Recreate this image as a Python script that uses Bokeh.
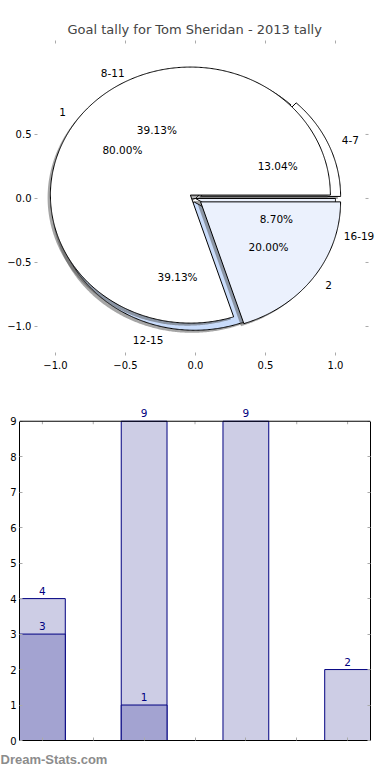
import numpy as np
from bokeh.plotting import figure
from bokeh.models import ColumnDataSource, Label, LinearAxis, FixedTicker, Title, Range1d, Span
from bokeh.layouts import column, row
from bokeh.embed import file_html
from bokeh.resources import INLINE

# ---------------- data ----------------
title_text = "Goal tally for Tom Sheridan - 2013 tally"
outer_labels = ["4-7", "8-11", "12-15", "16-19"]
outer_values = [3, 9, 9, 2]
inner_labels = ["1", "2"]
inner_values = [4, 1]

pie_xticks = [-1.0, -0.5, 0.0, 0.5, 1.0]
pie_yticks = [-1.0, -0.5, 0.0, 0.5]

bar_x = [0, 2, 4, 6]
bar_light = [4, 9, 9, 2]
bar_dark = [3, 1, 0, 0]
bar_yticks = list(range(10))
bar_xticks = list(range(7))
footer_text = "Dream-Stats.com"

# ---------------- style ----------------
FONT = "DejaVu Sans"
outer_explode = [0.04, 0.0, 0.03, 0.0]
outer_colors = ["#ffffff", "#ffffff", "#c9dcfb", "#ebf1fd"]
inner_explode = [0.045, 0.045]
inner_colors = ["#ffffff", "#ebf1fd"]
shadow_dx, shadow_dy = -0.02, -0.02
TICK_COLOR = "#aaaaaa"
NAVY = "#000080"
PIE_RIGHT_LIMIT = 1.236      # matplotlib axes limit (where the right ticks sit)
PIE_PX_X = 140.0             # px per data unit in x
BAR_YMAX = 9                 # top of the bar axes box
BAR_PX_Y = 35.44             # px per unit in y


def pie_geometry(values, labels, explode, radius=1.0):
    vals = np.asarray(values, dtype=float)
    frac = vals / vals.sum()
    edges = np.concatenate([[0.0], np.cumsum(frac)]) * 2 * np.pi
    out = dict(xs=[], ys=[], sx=[], sy=[], lx=[], ly=[], lal=[], px=[], py=[], pct=[], lab=[])
    for i in range(len(vals)):
        a0, a1 = edges[i], edges[i + 1]
        am = 0.5 * (a0 + a1)
        cx = explode[i] * np.cos(am)
        cy = explode[i] * np.sin(am)
        n = max(int((a1 - a0) / (2 * np.pi) * 720), 6)
        t = np.linspace(a0, a1, n)
        xs = np.concatenate([[cx], cx + radius * np.cos(t), [cx]])
        ys = np.concatenate([[cy], cy + radius * np.sin(t), [cy]])
        out["xs"].append(list(xs))
        out["ys"].append(list(ys))
        out["sx"].append(list(xs + shadow_dx))
        out["sy"].append(list(ys + shadow_dy))
        lx = cx + 1.1 * radius * np.cos(am)
        ly = cy + 1.1 * radius * np.sin(am)
        out["lx"].append(float(lx))
        out["ly"].append(float(ly))
        out["lal"].append("left" if lx > 0 else "right")
        out["px"].append(float(cx + 0.6 * radius * np.cos(am)))
        out["py"].append(float(cy + 0.6 * radius * np.sin(am)))
        out["pct"].append("%.2f%%" % (100 * frac[i]))
        out["lab"].append(labels[i])
    return out


def style_axis(ax, labels=True, size="10px", standoff=3):
    ax.axis_line_color = None
    ax.major_tick_in = 3
    ax.major_tick_out = 0
    ax.minor_tick_line_color = None
    ax.major_tick_line_color = TICK_COLOR
    ax.major_label_text_font = FONT
    if labels:
        ax.major_label_text_color = "black"
        ax.major_label_text_font_size = size
        ax.major_label_standoff = standoff
    else:
        ax.major_label_text_color = None
        ax.major_label_text_font_size = "1px"
        ax.major_label_standoff = 0


def fmt(v):
    return ("%.1f" % v).replace("-", "\u2212")


# ---------------- pie figure ----------------
p1 = figure(width=390, height=390, output_backend="svg", toolbar_location=None,
            x_range=Range1d(-1.15, 1.393), y_range=Range1d(-1.2266, 1.234),
            min_border_left=34, min_border_right=0, min_border_top=40, min_border_bottom=35,
            title=title_text)
p1.title.text_font = FONT
p1.title.text_font_size = "13px"
p1.title.text_font_style = "normal"
p1.title.align = "left"
p1.title.offset = 33
p1.title.standoff = 8
p1.xgrid.visible = False
p1.ygrid.visible = False
p1.outline_line_color = None

p1.xaxis.ticker = FixedTicker(ticks=pie_xticks)
p1.yaxis.ticker = FixedTicker(ticks=pie_yticks)
p1.xaxis.major_label_overrides = {v: fmt(v) for v in pie_xticks}
p1.yaxis.major_label_overrides = {v: fmt(v) for v in pie_yticks}
style_axis(p1.xaxis[0], standoff=5)
style_axis(p1.yaxis[0])
top1 = LinearAxis(ticker=FixedTicker(ticks=pie_xticks))
style_axis(top1, labels=False)
p1.add_layout(top1, "above")
# right-hand tick marks of the (frameless) matplotlib axes
p1.segment(x0=[PIE_RIGHT_LIMIT] * len(pie_yticks), y0=pie_yticks,
           x1=[PIE_RIGHT_LIMIT - 3 / PIE_PX_X] * len(pie_yticks), y1=pie_yticks,
           line_color=TICK_COLOR, line_width=1)

layers = [
    (pie_geometry(outer_values, outer_labels, outer_explode), outer_colors),
    (pie_geometry(inner_values, inner_labels, inner_explode), inner_colors),
]
for geo, colors in layers:
    p1.patches(xs=geo["sx"], ys=geo["sy"], fill_color="#4d4d4d", fill_alpha=0.5, line_color=None)
    p1.patches(xs=geo["xs"], ys=geo["ys"], fill_color=colors, line_color="black", line_width=1)

for geo, colors in layers:
    for x, y, t, a in zip(geo["lx"], geo["ly"], geo["lab"], geo["lal"]):
        p1.add_layout(Label(x=x, y=y, text=t, text_align=a, text_baseline="middle",
                            text_font=FONT, text_font_size="10.5px", text_color="black"))
    for x, y, t in zip(geo["px"], geo["py"], geo["pct"]):
        p1.add_layout(Label(x=x, y=y, text=t, text_align="center", text_baseline="middle",
                            text_font=FONT, text_font_size="10.5px", text_color="black"))

# ---------------- bar figure ----------------
p2 = figure(width=390, height=390, output_backend="svg", toolbar_location=None,
            x_range=Range1d(-0.45, 6.45), y_range=Range1d(0, 9.5),
            min_border_left=19, min_border_right=20, min_border_top=13, min_border_bottom=40)
p2.xgrid.visible = False
p2.ygrid.visible = False
p2.outline_line_color = None
p2.xaxis.ticker = FixedTicker(ticks=bar_xticks)
p2.yaxis.ticker = FixedTicker(ticks=bar_yticks)
style_axis(p2.xaxis[0], labels=False)
style_axis(p2.yaxis[0])
p2.xaxis.axis_line_color = "black"
p2.yaxis.axis_line_color = "black"
p2.yaxis.bounds = (0, BAR_YMAX)
right2 = LinearAxis(ticker=FixedTicker(ticks=bar_yticks), bounds=(0, BAR_YMAX))
style_axis(right2, labels=False)
right2.axis_line_color = "black"
p2.add_layout(right2, "right")
p2.add_layout(Span(location=BAR_YMAX, dimension="width", line_color="black", line_width=1))
p2.segment(x0=bar_xticks, y0=[BAR_YMAX] * len(bar_xticks), x1=bar_xticks,
           y1=[BAR_YMAX - 3 / BAR_PX_Y] * len(bar_xticks), line_color=TICK_COLOR, line_width=1)

light_src = ColumnDataSource(dict(x=bar_x, top=bar_light))
dark_x = [x for x, v in zip(bar_x, bar_dark) if v > 0]
dark_v = [v for v in bar_dark if v > 0]
dark_src = ColumnDataSource(dict(x=dark_x, top=dark_v))

p2.vbar(x="x", top="top", width=0.9, source=light_src, fill_color="#cdcde5",
        line_color=NAVY, line_width=1)
p2.vbar(x="x", top="top", width=0.9, source=dark_src, fill_color="#a3a3d1",
        line_color=NAVY, line_width=1)
for xs_, vs_ in ((bar_x, bar_light), (dark_x, dark_v)):
    for x, v in zip(xs_, vs_):
        p2.add_layout(Label(x=x, y=v, text=str(v), text_align="center",
                            text_baseline="alphabetic", y_offset=8, text_font=FONT,
                            text_font_size="10.5px", text_color=NAVY))

footer = Title(text=footer_text, align="left", offset=-19, standoff=22, vertical_align="top",
               text_font="Liberation Sans", text_font_size="13px", text_font_style="bold",
               text_color="#8c8c8c")
p2.add_layout(footer, "below")

layout = column(row(p1), row(p2), spacing=0)
open("out.html", "w").write(file_html(layout, INLINE))
